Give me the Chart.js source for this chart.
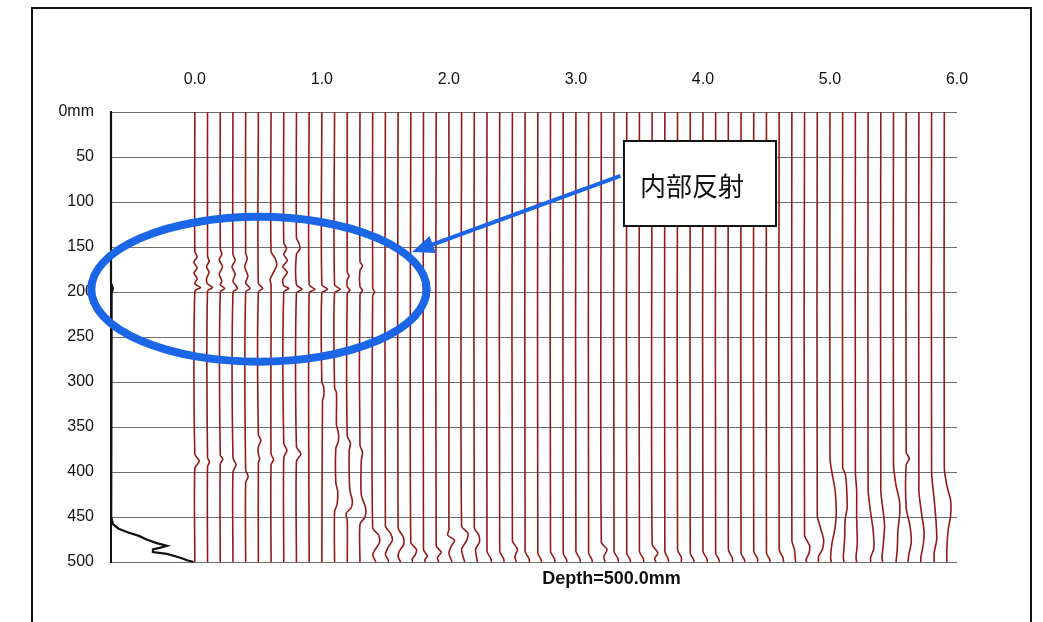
<!DOCTYPE html>
<html>
<head>
<meta charset="utf-8">
<script src="https://cdn.jsdelivr.net/npm/chart.js@4.4.0/dist/chart.umd.min.js"></script>
<style>
  html, body { margin: 0; padding: 0; background: #fff; }
  #wrap { position: relative; width: 1043px; height: 622px; overflow: hidden; }
  #frame { position: absolute; left: 31px; top: 7px; width: 997px; height: 640px; border: 2px solid #111; pointer-events: none; }
  canvas { position: absolute; left: 0; top: 0; }
</style>
</head>
<body>
<div id="wrap"><canvas id="chart" width="1043" height="622"></canvas><div id="frame"></div></div>
<script>
// depth ticks (mm) and position ticks along the top
var depthTicks = [0, 50, 100, 150, 200, 250, 300, 350, 400, 450, 500];
var posTicks = [0, 1, 2, 3, 4, 5, 6];

// position of each trace
var tracePos = [
  0.0, 0.1, 0.2, 0.3, 0.4, 0.5, 0.6, 0.7, 0.8, 0.9,
  1.0, 1.1, 1.2, 1.3, 1.4, 1.5, 1.6, 1.7, 1.8, 1.9,
  2.0, 2.1, 2.2, 2.3, 2.4, 2.5, 2.6, 2.7, 2.8, 2.9,
  3.0, 3.1, 3.2, 3.3, 3.4, 3.5, 3.6, 3.7, 3.8, 3.9,
  4.0, 4.1, 4.2, 4.3, 4.4, 4.5, 4.6, 4.7, 4.8, 4.9,
  5.0, 5.1, 5.2, 5.3, 5.4, 5.5, 5.6, 5.7, 5.8, 5.9
];

// wiggle of each trace: [depth mm, deflection]
var wiggles = [
  [[155,0],[161,0.018],[167,-0.008],[173,0.018],[179,-0.008],[185,0.018],[191,0],[195,0.045],[199,0],[380,0],[388,0.035],[396,0]],
  [[160,0],[166,0.012],[172,-0.008],[178,0.012],[185,-0.008],[191,0],[195,0.04],[199,0],[384,0],[389,0.015],[394,0]],
  [[152,0],[158,0.012],[164,-0.008],[172,0.018],[180,-0.008],[188,0.012],[192,0],[196,0.035],[200,0],[381,0],[386,0.02],[391,0]],
  [[158,0],[165,0.018],[172,-0.008],[180,0.018],[188,0],[196,0.035],[200,0],[384,0],[392,0.025],[400,0]],
  [[156,0],[163,0.012],[172,-0.008],[182,0.018],[190,0],[196,0.035],[200,0],[398,0],[405,0.02],[412,0]],
  [[190,0],[196,0.035],[200,0],[358,0],[365,0.02],[372,0],[380,0],[385,0.01],[390,0]],
  [[155,0],[162,0.03],[170,0.045],[178,0.02],[186,-0.008],[192,0],[380,0],[386,0.02],[392,0]],
  [[145,0],[152,0.022],[158,0],[165,0.028],[172,-0.008],[178,0.028],[186,-0.008],[193,0],[196,0.04],[200,0],[368,0],[376,0.025],[384,0]],
  [[140,0],[146,0.02],[152,0.028],[158,0],[192,0],[197,0.045],[201,0],[372,0],[380,0.035],[388,0]],
  [[192,0],[197,0.045],[201,0]],
  [[192,0],[197,0.045],[201,0],[300,0],[306,0.015],[316,0.015],[320,0.005]],
  [[192,0],[197,0.045],[201,0],[306,0],[312,0.015],[348,0.015],[356,0.03],[366,0.03],[374,0.01],[412,0.01],[422,0.025],[436,0.02],[444,0]],
  [[178,0],[182,0.015],[186,0],[194,0],[198,0.02],[202,0],[360,0],[368,0.025],[376,0.015],[420,0.02],[432,0.04],[440,0.03],[446,-0.01],[454,0]],
  [[166,0],[171,0.02],[176,0],[194,0],[198,0.02],[203,0],[370,0],[378,0.02],[388,0.01],[425,0.01],[440,0.045],[450,0.04],[458,0]],
  [[196,0],[200,0.015],[204,0],[462,0],[470,0.045],[478,0.055],[486,0.02],[492,0],[500,0.025]],
  [[460,0],[468,0.04],[476,0.055],[484,0.02],[492,0],[497,0.02],[500,0.025]],
  [[462,0],[472,0.04],[480,0.045],[488,0.01],[494,0],[500,0.02]],
  [[478,0],[486,0.045],[492,0.035],[497,0.01],[500,0.015]],
  [[486,0],[493,0.03],[498,0.01],[500,0.015]],
  [[482,0],[489,0.04],[495,0.01],[500,0.02]],
  [[464,0],[470,-0.01],[476,0.045],[482,0.02],[490,0],[500,0.025]],
  [[460,0],[468,0.05],[476,0.04],[486,0],[500,0.025]],
  [[462,0],[470,0.035],[478,0.04],[486,0.01],[500,0.025]],
  [[488,0],[496,0.03],[500,0.035]],
  [[488,0],[496,0.03],[500,0.035]],
  [[476,0],[486,0.04],[494,0.02],[500,0.03]],
  [[488,0],[496,0.03],[500,0.035]],
  [[490,0],[497,0.025],[500,0.03]],
  [[488,0],[496,0.03],[500,0.035]],
  [[490,0],[497,0.025],[500,0.03]],
  [[488,0],[496,0.03],[500,0.035]],
  [[490,0],[497,0.025],[500,0.03]],
  [[478,0],[486,0.045],[494,0.02],[500,0.03]],
  [[488,0],[496,0.03],[500,0.035]],
  [[490,0],[497,0.025],[500,0.03]],
  [[488,0],[496,0.03],[500,0.035]],
  [[480,0],[490,0.045],[496,0.02],[500,0.03]],
  [[488,0],[496,0.025],[500,0.03]],
  [[486,0],[495,0.03],[500,0.03]],
  [[490,0],[497,0.025],[500,0.03]],
  [[488,0],[496,0.03],[500,0.035]],
  [[490,0],[497,0.025],[500,0.03]],
  [[486,0],[495,0.03],[500,0.035]],
  [[490,0],[497,0.025],[500,0.03]],
  [[488,0],[496,0.03],[500,0.03]],
  [[490,0],[497,0.025],[500,0.03]],
  [[486,0],[495,0.03],[500,0.035]],
  [[476,0],[486,0.02],[494,0.025],[500,0.03]],
  [[470,0],[482,0.04],[490,0.035],[498,0.01],[500,0.02]],
  [[448,0],[462,0.025],[475,0.05],[486,0.04],[494,0.01],[500,0.01]],
  [[385,0],[400,0.015],[420,0.04],[445,0.05],[462,0.04],[480,0.015],[495,0.005],[500,0.01]],
  [[395,0],[402,0.02],[415,0.03],[440,0.035],[452,0.02],[475,0.015],[495,0.005],[500,0.01]],
  [[400,0],[420,0.01],[450,0.01],[480,0.015],[495,0.005],[500,0.01]],
  [[418,0],[440,0.015],[465,0.04],[485,0.045],[495,0.02],[500,0.02]],
  [[420,0],[445,0.02],[460,0.03],[480,0.02],[495,0.01],[500,0.015]],
  [[390,0],[415,0.02],[430,0.045],[445,0.05],[465,0.035],[485,0.03],[500,0.02]],
  [[378,0],[385,0.025],[392,0],[440,0],[460,0.03],[478,0.04],[492,0.02],[500,0.015]],
  [[420,0],[445,0.02],[465,0.04],[480,0.035],[495,0.015],[500,0.015]],
  [[400,0],[430,0.02],[455,0.035],[475,0.04],[490,0.02],[500,0.02]],
  [[395,0],[415,0.02],[432,0.05],[448,0.05],[465,0.03],[485,0.02],[500,0.02]]
];

// black amplitude profile on the left
var envDepth = [0, 190, 196, 202, 208, 440, 450, 458, 463, 467, 471, 475, 479, 482, 484, 486, 489, 491, 495, 498, 500];
var envX = [-0.66, -0.66, -0.645, -0.655, -0.66, -0.66, -0.655, -0.645, -0.6, -0.53, -0.44, -0.38, -0.3, -0.22, -0.27, -0.33, -0.33, -0.22, -0.12, -0.06, -0.01];

var noteText = "内部反射";
var depthText = "Depth=500.0mm";

var tickFont = "'Liberation Sans', sans-serif";

function traceData(pos, w) {
  var pts = [{ x: pos, y: 0 }];
  w.forEach(function (p) {
    pts.push({ x: pos + p[1], y: p[0] });
  });
  if (!w.length || w[w.length - 1][0] < 500) pts.push({ x: pos, y: 500 });
  return pts;
}

var datasets = tracePos.map(function (pos, i) {
  return {
    data: traceData(pos, wiggles[i]),
    borderColor: "#921a1a",
    borderWidth: 1.6,
    pointRadius: 0,
    showLine: true,
    tension: 0.25
  };
});

datasets.push({
  data: envDepth.map(function (d, i) { return { x: envX[i], y: d }; }),
  borderColor: "#111",
  borderWidth: 2.2,
  pointRadius: 0,
  showLine: true,
  tension: 0,
  clip: 6
});

// ellipse, arrow, note box and depth label
var notes = {
  id: "notes",
  afterDatasetsDraw: function (chart) {
    var ctx = chart.ctx;
    var xs = chart.scales.x;
    var ys = chart.scales.y;
    var area = chart.chartArea;
    ctx.save();

    // blue ellipse
    var cx = xs.getPixelForValue(0.505), cy = ys.getPixelForValue(197);
    var rx = xs.getPixelForValue(0.505 + 1.32) - cx;
    var ry = ys.getPixelForValue(197 + 80.5) - cy;
    ctx.beginPath();
    ctx.ellipse(cx, cy, rx, ry, 0, 0, Math.PI * 2);
    ctx.strokeStyle = "#1a66e6";
    ctx.lineWidth = 8;
    ctx.stroke();

    // arrow
    var tx = xs.getPixelForValue(3.35), ty = ys.getPixelForValue(71);
    var hx = xs.getPixelForValue(1.71), hy = ys.getPixelForValue(155.6);
    var ang = Math.atan2(hy - ty, hx - tx);
    var len = 22;
    ctx.beginPath();
    ctx.moveTo(tx, ty);
    ctx.lineTo(hx - Math.cos(ang) * len * 0.8, hy - Math.sin(ang) * len * 0.8);
    ctx.lineWidth = 4;
    ctx.stroke();
    ctx.beginPath();
    ctx.moveTo(hx, hy);
    ctx.lineTo(hx - Math.cos(ang) * len + Math.sin(ang) * 9, hy - Math.sin(ang) * len - Math.cos(ang) * 9);
    ctx.lineTo(hx - Math.cos(ang) * len - Math.sin(ang) * 9, hy - Math.sin(ang) * len + Math.cos(ang) * 9);
    ctx.closePath();
    ctx.fillStyle = "#1a66e6";
    ctx.fill();

    // note box
    var bl = xs.getPixelForValue(3.378), br = xs.getPixelForValue(4.575);
    var bt = ys.getPixelForValue(32.2), bb = ys.getPixelForValue(126.7);
    ctx.fillStyle = "#fff";
    ctx.fillRect(bl, bt, br - bl, bb - bt);
    ctx.strokeStyle = "#111";
    ctx.lineWidth = 2;
    ctx.strokeRect(bl, bt, br - bl, bb - bt);
    ctx.fillStyle = "#111";
    ctx.font = "26px 'Noto Sans CJK JP'";
    ctx.textAlign = "center";
    ctx.textBaseline = "middle";
    ctx.fillText(noteText, xs.getPixelForValue(3.913), ys.getPixelForValue(82));

    // depth label under the plot
    ctx.font = "bold 18px 'Liberation Sans', sans-serif";
    ctx.fillText(depthText, xs.getPixelForValue(3.28), area.bottom + 17);
    ctx.restore();
  }
};

new Chart(document.getElementById("chart"), {
  type: "scatter",
  data: { datasets: datasets },
  options: {
    responsive: false,
    devicePixelRatio: 1,
    animation: false,
    layout: { padding: { left: 40, top: 60, right: 86, bottom: 60 } },
    plugins: { legend: { display: false }, tooltip: { enabled: false } },
    scales: {
      x: {
        type: "linear",
        position: "top",
        min: -0.66,
        max: 6.0,
        afterBuildTicks: function (axis) {
          axis.ticks = posTicks.map(function (v) { return { value: v }; });
        },
        afterFit: function (axis) { axis.height = 52; },
        grid: { display: false },
        border: { display: false },
        ticks: {
          padding: 15,
          color: "#111",
          font: { family: tickFont, size: 16 },
          callback: function (v) { return Number(v).toFixed(1); }
        }
      },
      y: {
        type: "linear",
        reverse: true,
        min: 0,
        max: 500,
        afterBuildTicks: function (axis) {
          axis.ticks = depthTicks.map(function (v) { return { value: v }; });
        },
        afterFit: function (axis) { axis.width = 71; },
        grid: { color: "#6e6e6e", lineWidth: 1, drawTicks: false },
        border: { color: "#111", width: 2 },
        ticks: {
          padding: 17,
          color: "#111",
          font: { family: tickFont, size: 16 },
          callback: function (v) { return v === 0 ? "0mm" : v; }
        }
      }
    }
  },
  plugins: [notes]
});
</script>
</body>
</html>
